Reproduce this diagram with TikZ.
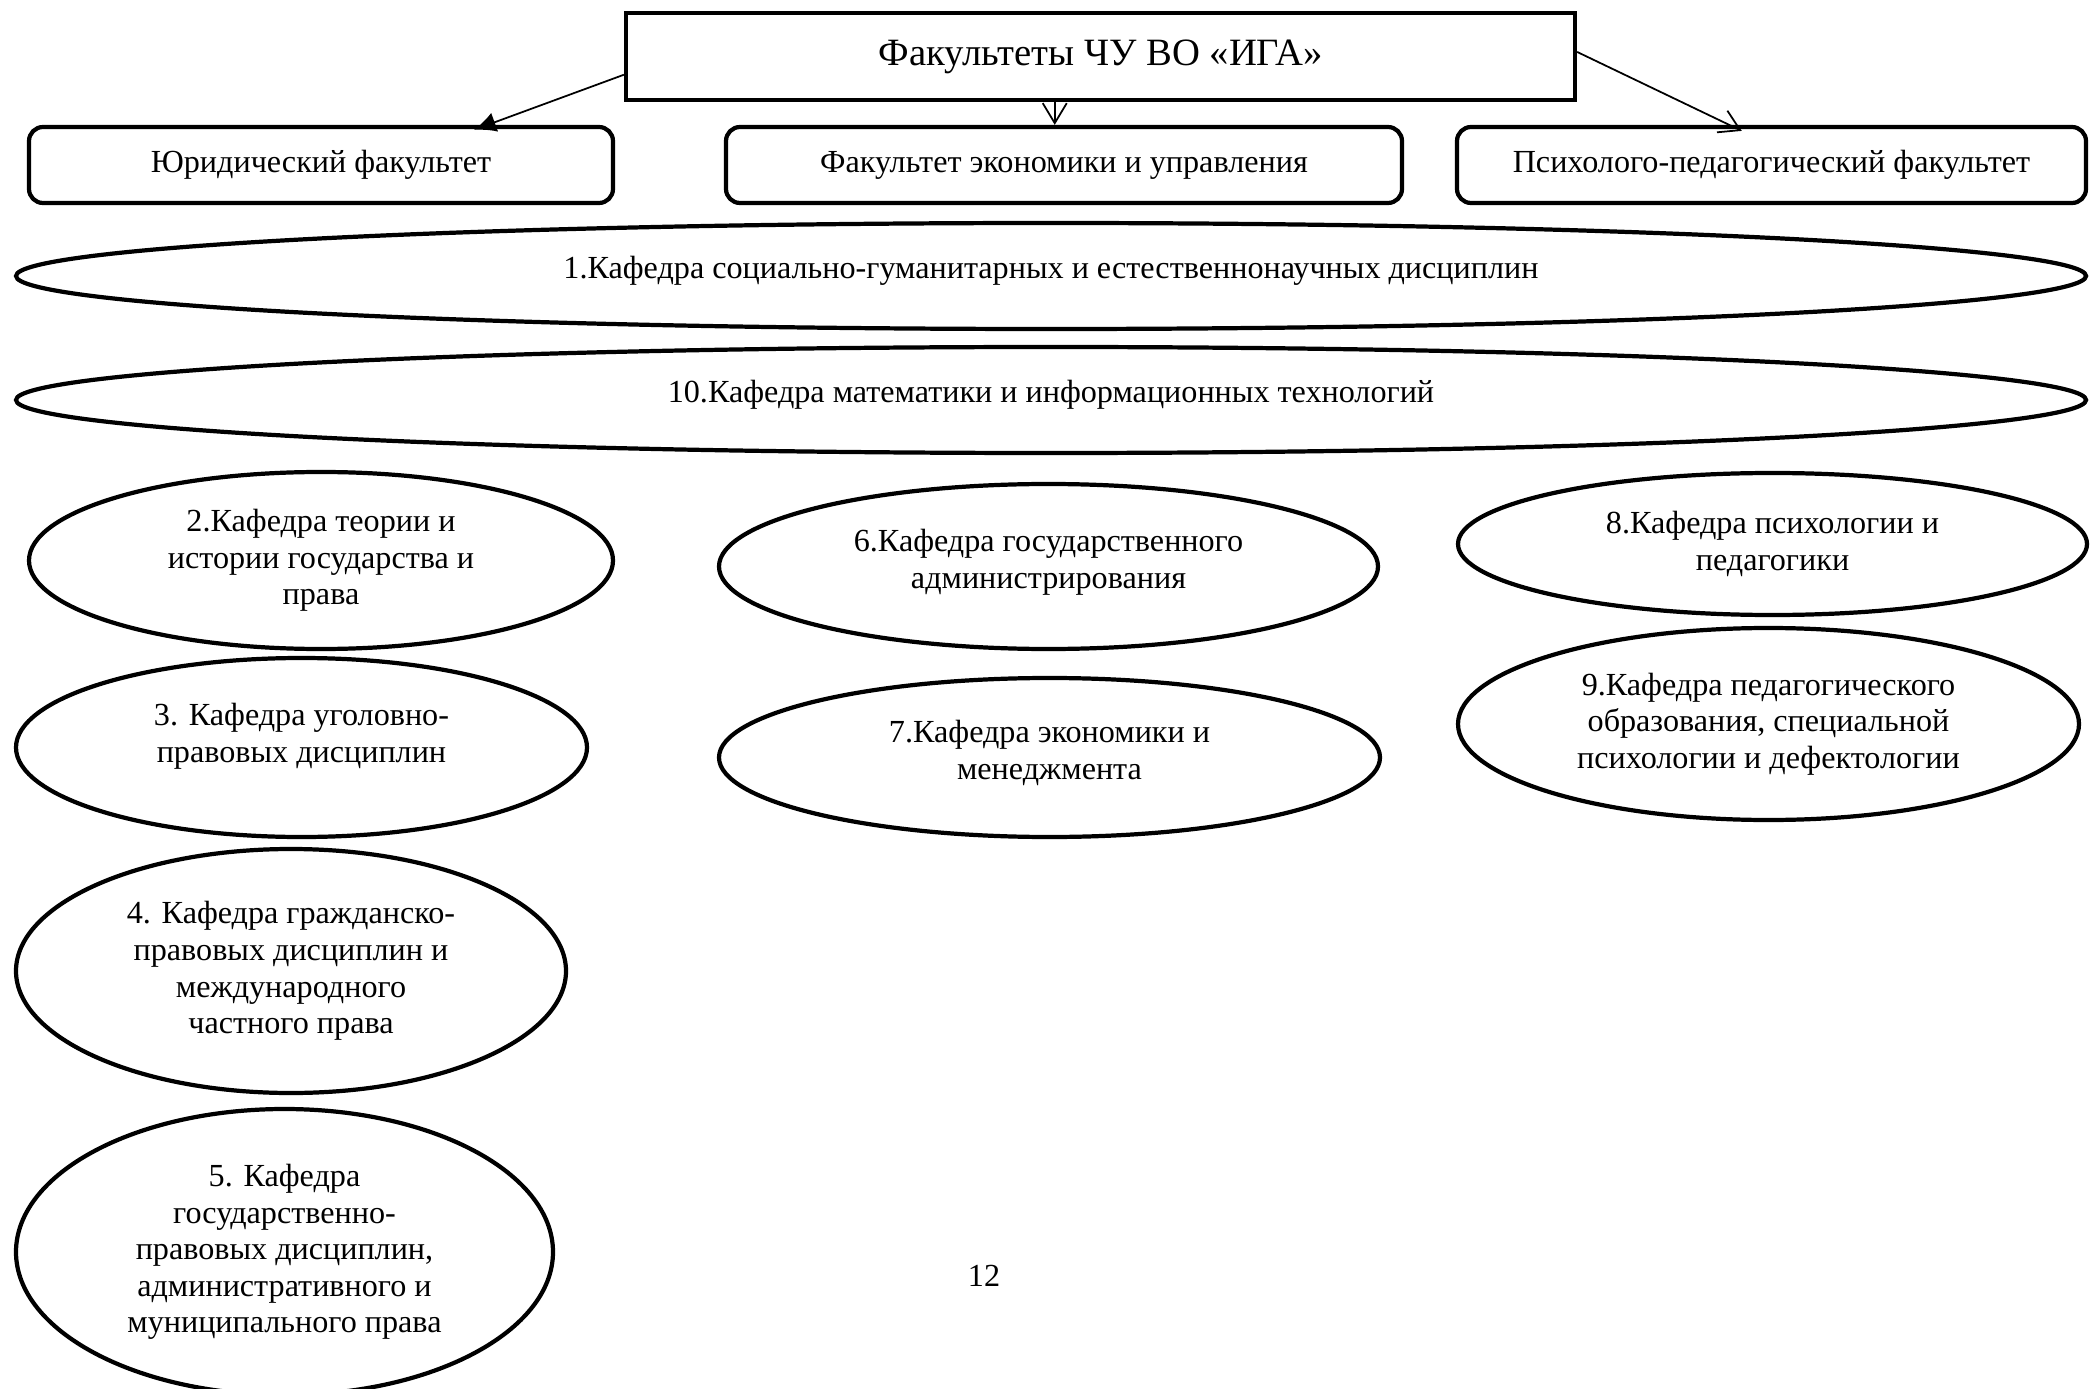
\documentclass[tikz,border=0pt]{standalone}
\usepackage{fontspec}
\setmainfont{Liberation Serif}
\usepackage{tikz}
\usetikzlibrary{shapes, arrows.meta, positioning, calc}

\begin{document}
\begin{tikzpicture}[
    fakbox/.style={draw, line width=1.2pt, rounded corners=4pt, minimum height=0.76cm, inner sep=2pt, font=\fontsize{9.15}{10.4}\selectfont},
    kafedra/.style={ellipse, draw, line width=1.2pt, inner sep=0pt, align=center, font=\fontsize{9.15}{10.4}\selectfont},
    link/.style={line width=0.5pt}
  ]
  \useasboundingbox (0,0) rectangle (20.9,-13.89);

  % Top box
  \node[draw, line width=1.2pt, minimum width=9.49cm, minimum height=0.87cm, font=\fontsize{11}{12}\selectfont] (iga) at (11.005, -0.565) {Факультеты ЧУ ВО «ИГА»\\[-0.28cm]};

  % Faculties
  \node[fakbox, minimum width=5.84cm] (jur) at (3.21, -1.65) {Юридический факультет};
  \node[fakbox, minimum width=6.76cm] (econ) at (10.64, -1.65) {Факультет экономики и управления};
  \node[fakbox, minimum width=6.29cm] (psy) at (17.715, -1.65) {Психолого-педагогический факультет};

  % Arrows from the top box
  \coordinate (ilow) at ($(iga.north west)!0.7!(iga.south west)$);
  \coordinate (imid) at ($(iga.south west)!0.452!(iga.south east)$);
  \coordinate (ihigh) at ($(iga.north east)!0.45!(iga.south east)$);
  \draw[link, -{Latex[length=2.2mm, width=2mm]}] (ilow) -- ($(jur.north west)!0.76!(jur.north east)+(0,-0.05)$);
  \draw[link, -{Straight Barb[length=2mm, width=2.4mm]}] (imid) -- (imid |- econ.north);
  \draw[link, -{Straight Barb[length=2mm, width=2.4mm]}] (ihigh) -- ($(psy.north west)!0.453!(psy.north east)+(0,-0.06)$);

  % Wide departments
  \node[kafedra, minimum width=20.7cm, minimum height=1.06cm] (k1) at (10.51, -2.76) {1.Кафедра социально-гуманитарных и естественнонаучных дисциплин\\[-0.19cm]};
  \node[kafedra, minimum width=20.7cm, minimum height=1.06cm] (k10) at (10.51, -4.00) {10.Кафедра математики и информационных технологий\\[-0.19cm]};

  % Law faculty departments
  \node[kafedra, minimum width=5.84cm, minimum height=1.77cm] (k2) at (3.21, -5.605) {2.Кафедра теории и\\истории государства и\\права};
  \node[kafedra, minimum width=5.71cm, minimum height=1.79cm] (k3) at (3.015, -7.475) {3. Кафедра уголовно-\\правовых дисциплин\\[-0.07cm]};
  \node[kafedra, minimum width=5.5cm, minimum height=2.44cm] (k4) at (2.91, -9.71) {4. Кафедра гражданско-\\правовых дисциплин и\\международного\\частного права};
  \node[kafedra, minimum width=5.37cm, minimum height=2.86cm] (k5) at (2.845, -12.52) {5. Кафедра\\государственно-\\правовых дисциплин,\\административного и\\муниципального права};

  % Economics faculty departments
  \node[kafedra, minimum width=6.59cm, minimum height=1.65cm] (k6) at (10.485, -5.665) {6.Кафедра государственного\\администрирования\\[-0.21cm]};
  \node[kafedra, minimum width=6.61cm, minimum height=1.59cm] (k7) at (10.495, -7.575) {7.Кафедра экономики и\\менеджмента\\[-0.21cm]};

  % Psychology faculty departments
  \node[kafedra, minimum width=6.29cm, minimum height=1.42cm] (k8) at (17.725, -5.44) {8.Кафедра психологии и\\педагогики};
  \node[kafedra, minimum width=6.21cm, minimum height=1.92cm] (k9) at (17.685, -7.24) {9.Кафедра педагогического\\образования, специальной\\психологии и дефектологии};

  % Page number
  \node[font=\fontsize{9.15}{10.4}\selectfont] (pagenum) at (9.84, -12.76) {12};
\end{tikzpicture}
\end{document}
